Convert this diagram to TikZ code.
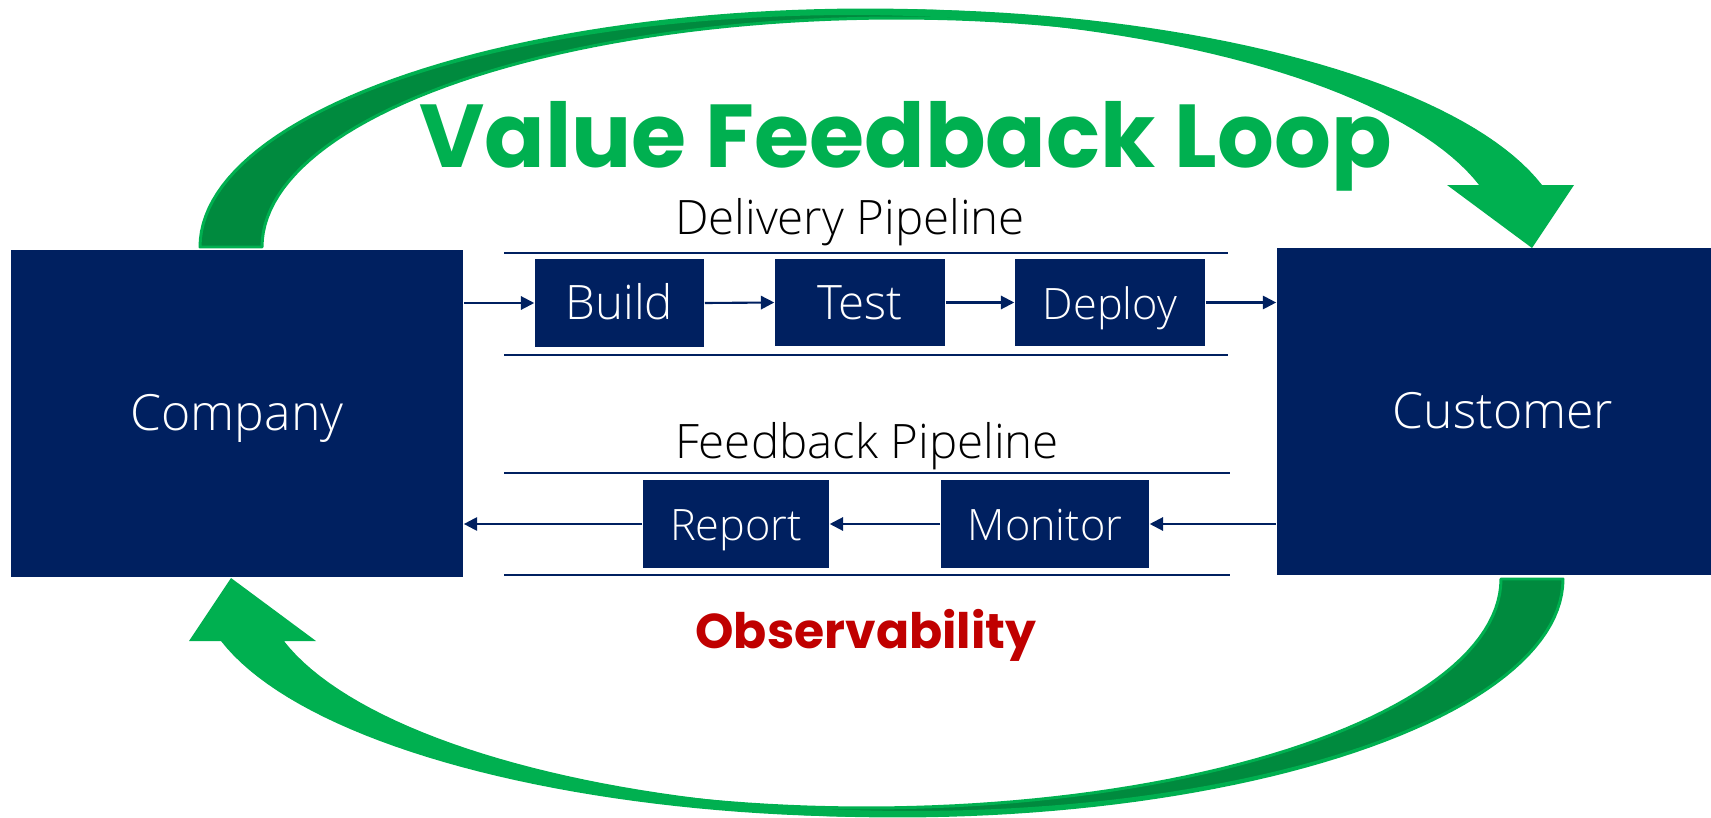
\documentclass[tikz,border=0pt]{standalone}
\usepackage{fontspec}
% thin sans for the labels, falling back step by step
\IfFontExistsTF{Open Sans Light}{\setmainfont{Open Sans Light}}{%
 \IfFontExistsTF{OpenSans-Light.ttf}{\setmainfont{OpenSans-Light.ttf}}{%
  \IfFontExistsTF{Lato Light}{\setmainfont{Lato Light}}{%
   \IfFontExistsTF{Fira Sans Light}{\setmainfont{Fira Sans Light}}{%
    \setmainfont{Open Sans}}}}}
\newfontfamily\headfont{Poppins}
\usetikzlibrary{arrows.meta}

\definecolor{navy}{RGB}{0,32,96}
\definecolor{loopgreen}{RGB}{0,176,80}
\definecolor{loopdark}{RGB}{0,138,62}
\definecolor{obsred}{RGB}{192,0,0}

% One curved loop arrow: darker back face rising from the base,
% lighter front face running over the top into the arrow head.
\newcommand\loopband{%
  \filldraw[fill=loopdark, draw=loopgreen, line width=0.85pt, line join=round]
    plot[domain=180:290, samples=60] ({866+666*cos(\x)},{247+237*sin(\x)})
    -- plot[domain=290:180, samples=60] ({897+635*cos(\x)},{247+229*sin(\x)})
    -- cycle;
  \fill[loopgreen]
    plot[domain=180:344.9, samples=90] ({882.8+682.8*cos(\x)},{247+238*sin(\x)})
    -- (1574,185) -- (1532,248) -- (1447,185)
    -- plot[domain=344.5:180, samples=90] ({851.4+651.4*cos(\x)},{247+232*sin(\x)})
    -- cycle;
}

\begin{document}
\begin{tikzpicture}[x=0.01cm, y=-0.01cm,
  block/.style={fill=navy, text=white, inner sep=0pt,
    text height=9.5pt, text depth=0pt},
  bigblock/.style={block, minimum width=4.52cm, minimum height=3.27cm,
    font=\fontsize{14.2pt}{17pt}\selectfont},
  stepbox/.style={block, minimum height=0.87cm},
  stagefont/.style={font=\fontsize{13.5pt}{16pt}\selectfont},
  smallfont/.style={font=\fontsize{12.3pt}{15pt}\selectfont},
  pipelabel/.style={anchor=base, inner sep=0pt,
    font=\fontsize{13.5pt}{16pt}\selectfont},
  rule/.style={draw=navy, line width=0.85pt},
  flow/.style={draw=navy, line width=0.6pt,
    -{Triangle[length=3.8pt, width=3.8pt]}},
]
\useasboundingbox (0,0) rectangle (1711,818);
\clip (0,0) rectangle (1711,818);

% the two loop arrows (second one turned half way round)
\loopband
\begin{scope}[rotate around={180:(881.5,413)}]
  \loopband
\end{scope}

% company and customer
\node[bigblock] (company) at (237,413.5) {Company};
\node[bigblock] (customer) at (1503,411.5) {Customer};

% delivery pipeline
\node[pipelabel] (dlabel) at (850,235) {Delivery Pipeline};
\draw[rule] (504,253) -- (1228,253);
\draw[rule] (504,355) -- (1228,355);
\node[stepbox, stagefont, minimum width=1.69cm] (build) at (619.5,303) {Build};
\node[stepbox, stagefont, minimum width=1.70cm] (test) at (860,302.5) {Test};
\node[stepbox, smallfont, minimum width=1.90cm] (deploy) at (1110,302.5) {Deploy};

\draw[flow] (build.west -| company.east) -- (build.west);
\draw[flow] (build.east) -- (test.west);
\draw[flow] (test.east) -- (deploy.west);
\draw[flow] (deploy.east) -- (deploy.east -| customer.west);

% feedback pipeline
\node[pipelabel] (flabel) at (867,458) {Feedback Pipeline};
\draw[rule] (504,473) -- (1230,473);
\draw[rule] (504,575) -- (1230,575);
\node[stepbox, smallfont, minimum width=1.86cm, minimum height=0.88cm] (report) at (736,524) {Report};
\node[stepbox, smallfont, minimum width=2.08cm, minimum height=0.88cm] (monitor) at (1045,524) {Monitor};

\draw[flow] (monitor.east -| customer.west) -- (monitor.east);
\draw[flow] (monitor.west) -- (report.east);
\draw[flow] (report.west) -- (report.west -| company.east);

% headings
\node[anchor=base, inner sep=0pt, text=loopgreen,
  font={\headfont\bfseries\fontsize{25.4pt}{30pt}\selectfont}]
  (title) at (905.5,167) {Value Feedback Loop};
\node[anchor=base, inner sep=0pt, text=obsred,
  font={\headfont\bfseries\fontsize{13.9pt}{17pt}\selectfont}]
  (obs) at (866,648) {Observability};
\end{tikzpicture}
\end{document}
